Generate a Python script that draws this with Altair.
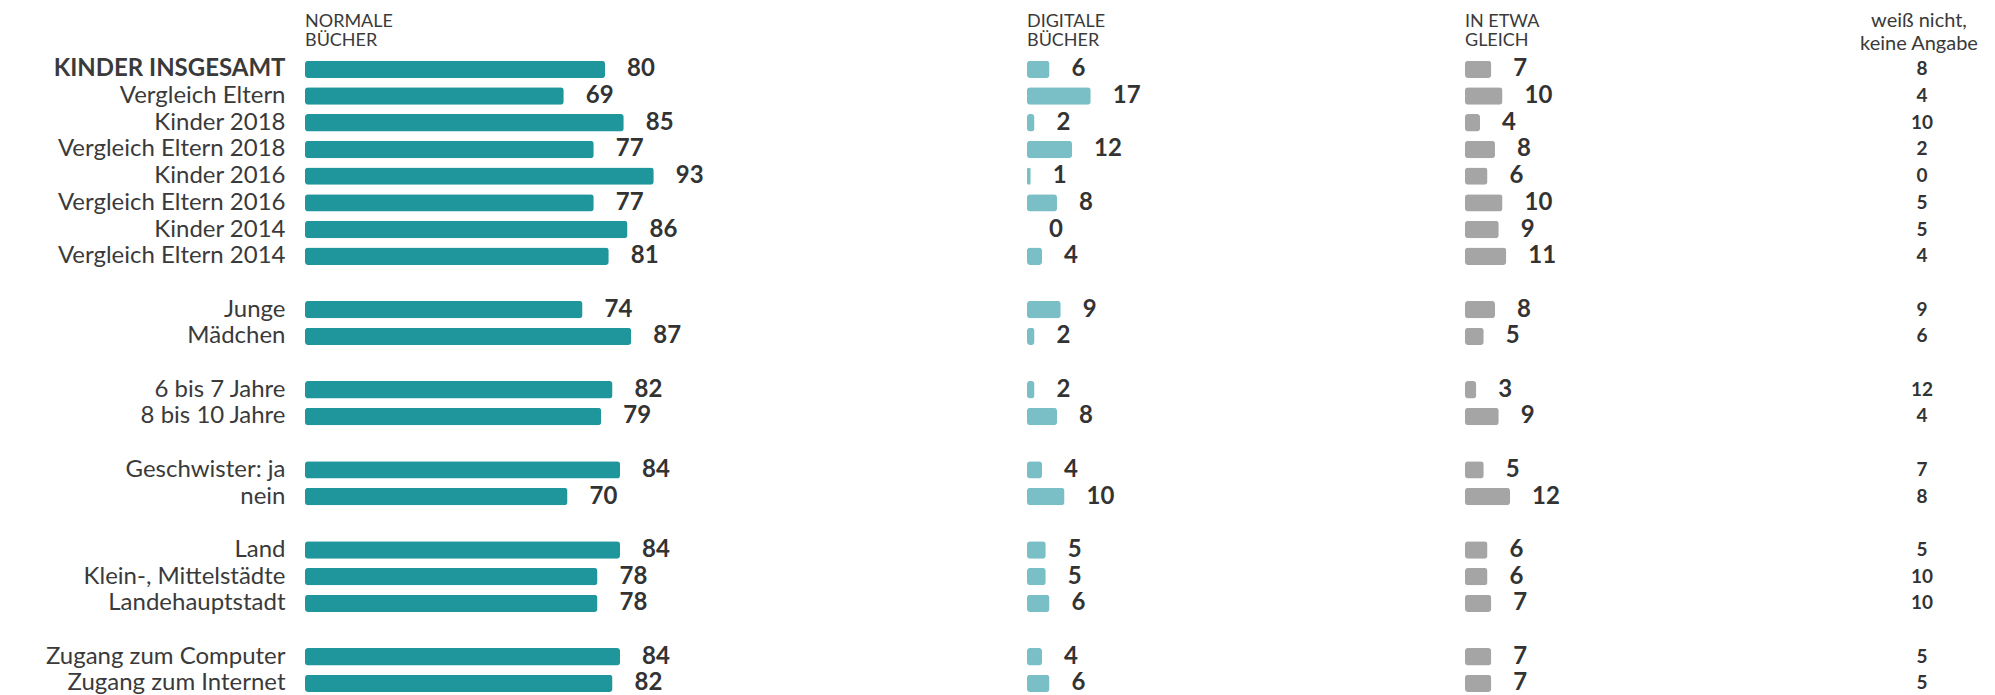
import altair as alt
import pandas as pd

categories = ["KINDER INSGESAMT", "Vergleich Eltern", "Kinder 2018", "Vergleich Eltern 2018",
              "Kinder 2016", "Vergleich Eltern 2016", "Kinder 2014", "Vergleich Eltern 2014",
              "Junge", "Mädchen", "6 bis 7 Jahre", "8 bis 10 Jahre",
              "Geschwister: ja", "nein", "Land", "Klein-, Mittelstädte", "Landehauptstadt",
              "Zugang zum Computer", "Zugang zum Internet"]
groups = [1, 1, 1, 1, 1, 1, 1, 1, 2, 2, 3, 3, 4, 4, 5, 5, 5, 6, 6]
normale = [80, 69, 85, 77, 93, 77, 86, 81, 74, 87, 82, 79, 84, 70, 84, 78, 78, 84, 82]
digitale = [6, 17, 2, 12, 1, 8, 0, 4, 9, 2, 2, 8, 4, 10, 5, 5, 6, 4, 6]
gleich = [7, 10, 4, 8, 6, 10, 9, 11, 8, 5, 3, 9, 5, 12, 6, 6, 7, 7, 7]
weiss = [8, 4, 10, 2, 0, 5, 5, 4, 9, 6, 12, 4, 7, 8, 5, 10, 10, 5, 5]

headers = [["NORMALE", "BÜCHER"], ["DIGITALE", "BÜCHER"], ["IN ETWA", "GLEICH"],
           ["weiß nicht,", "keine Angabe"]]

df = pd.DataFrame({"cat": categories, "normale": normale, "digitale": digitale,
                   "gleich": gleich, "weiss": weiss})

# y domain with blank separator rows between groups
domain = []
k = 0
for i, c in enumerate(categories):
    if i > 0 and groups[i] != groups[i - 1]:
        k += 1
        domain.append(" " * k)
    domain.append(c)

STEP = 26.7
PX_PER_UNIT = 3.75
H = STEP * len(domain)
FONT = "Lato"
TXT = "#3a3a3a"

yscale = alt.Scale(domain=domain, paddingInner=0.35, paddingOuter=0.175)


def title(lines, size=18, lh=19, anchor="start", dx=0, offset=6):
    return alt.TitleParams(text=lines, anchor=anchor, frame="group", font=FONT,
                           fontSize=size, fontWeight="normal", color=TXT,
                           lineHeight=lh, offset=offset, dx=dx)


def bar_panel(field, color, width, head, with_axis=False):
    xs = alt.Scale(domain=[0, width / PX_PER_UNIT], nice=False, zero=True)
    if with_axis:
        yaxis = alt.Axis(title=None, ticks=False, domain=False, labelFont=FONT,
                         labelColor=TXT, labelPadding=20, labelLimit=500, labelFontSize=24,
                         labelFontWeight={"condition": {"test": "datum.value == 'KINDER INSGESAMT'", "value": "bold"}, "value": "normal"})
    else:
        yaxis = None
    base = alt.Chart(df).encode(
        y=alt.Y("cat:N", scale=yscale, axis=yaxis),
        x=alt.X(f"{field}:Q", scale=xs, axis=None),
    )
    bars = base.mark_bar(color=color, cornerRadius=3)
    labels = base.mark_text(align="left", baseline="middle", dx=22, font=FONT,
                            fontSize=24, fontWeight="bold", color="#333333").encode(
        text=alt.Text(f"{field}:Q"))
    return (bars + labels).properties(width=width, height=H, title=title(head))


pA = bar_panel("normale", "#1e969c", 722, headers[0], with_axis=True)
pB = bar_panel("digitale", "#79bfc5", 438, headers[1])
pC = bar_panel("gleich", "#a5a5a5", 415, headers[2])

pD = alt.Chart(df).mark_text(align="center", baseline="middle", font=FONT, fontSize=19,
                             fontWeight="bold", color="#333333").encode(
    y=alt.Y("cat:N", scale=yscale, axis=None),
    x=alt.value(42),
    text=alt.Text("weiss:Q"),
).properties(width=84, height=H,
             title=title(headers[3], size=20, lh=23, anchor="middle", dx=-3, offset=2))

chart = alt.hconcat(pA, pB, pC, pD, spacing=0, bounds="flush").properties(
    padding={"left": 37, "top": 3, "right": 5, "bottom": 0}
).configure(background="white").configure_view(stroke=None)

chart.save("out.html", embed_options={"renderer": "svg", "actions": False})
